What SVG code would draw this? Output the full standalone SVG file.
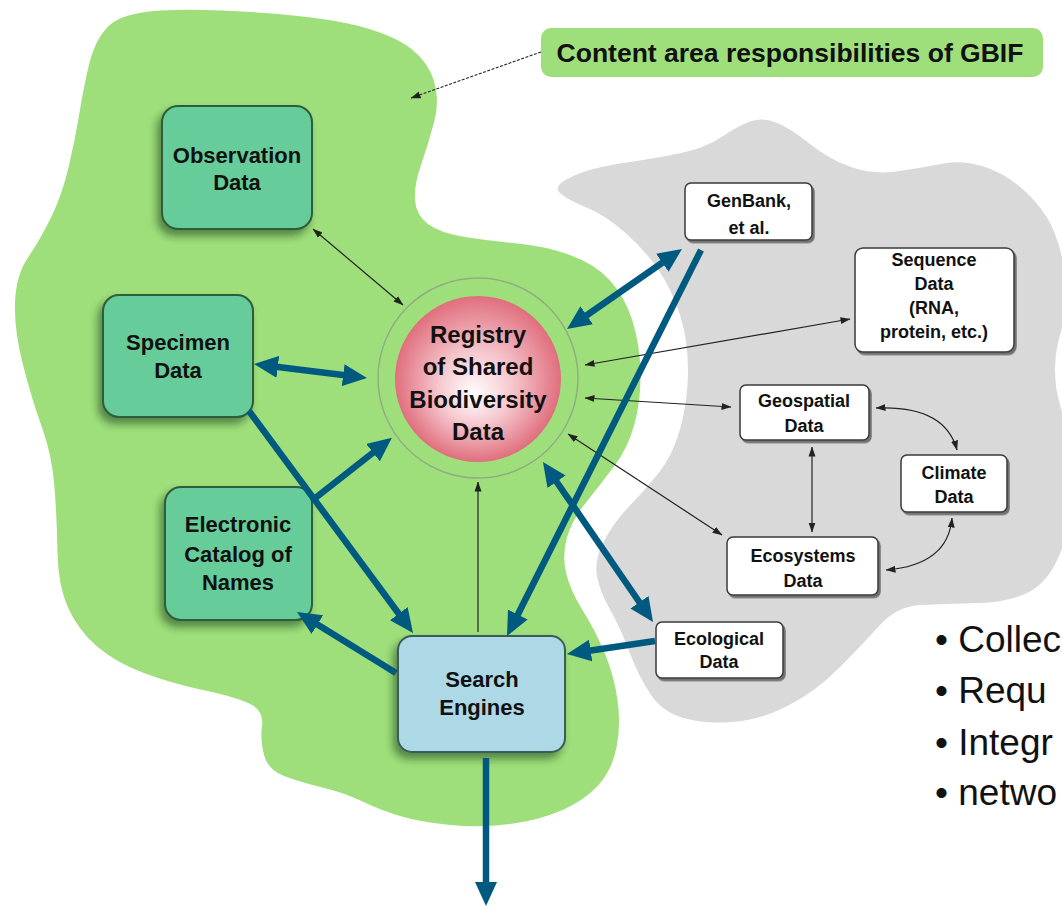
<svg xmlns="http://www.w3.org/2000/svg" width="1062" height="909" viewBox="0 0 1062 909">
<defs>
<style>
text{font-family:"Liberation Sans",Arial,sans-serif;fill:#111;text-anchor:middle}
.n22{font-size:22px;font-weight:bold}
.n24{font-size:24px;font-weight:bold}
.n18{font-size:18px;font-weight:bold}
.bul{font-size:37px;text-anchor:start}
.g{fill:#66cc99;stroke:#2e5c3c;stroke-width:2}
.w{fill:#fff;stroke:#3a3a3a;stroke-width:1.5}
.blue{stroke:#005a80;stroke-width:6.5;fill:none}
.thin{stroke:#222;stroke-width:1.2;fill:none}
</style>
<marker id="bh" viewBox="0 0 24 22" markerWidth="24" markerHeight="22" refX="10" refY="11" orient="auto-start-reverse" markerUnits="userSpaceOnUse"><path d="M0,0 L24,11 L0,22 z" fill="#005a80"/></marker>
<marker id="sa" viewBox="0 0 10 8" markerWidth="10" markerHeight="8" refX="9.5" refY="4" orient="auto-start-reverse" markerUnits="userSpaceOnUse"><path d="M0,0.5 L10,4 L0,7.5 z" fill="#222"/></marker>
<filter id="sh" x="-25%" y="-20%" width="150%" height="150%"><feDropShadow dx="-4" dy="6" stdDeviation="4" flood-color="#1f4a1a" flood-opacity="0.6"/></filter>
<filter id="ws" x="-10%" y="-10%" width="125%" height="135%"><feDropShadow dx="2" dy="2.5" stdDeviation="0.6" flood-color="#666" flood-opacity="0.9"/></filter>
<radialGradient id="pk" cx="0.5" cy="0.5" r="0.5" fx="0.47" fy="0.6"><stop offset="0" stop-color="#ffffff"/><stop offset="0.45" stop-color="#f5c6cd"/><stop offset="1" stop-color="#e06e7d"/></radialGradient>
</defs>

<g id="gray-area">
<path fill="#d9d9d9" d="M571,177 Q590,168 623.5,163 Q657,158 681,153 Q705,148 721.5,137 Q738,126 750,121.5 Q762,117 776,122.5 Q790,128 810,144 Q830,160 852.5,167.5 Q875,175 900,171 Q925,167 943.5,163.5 Q962,160 982,166 Q1002,172 1019,186 Q1036,200 1047,217.5 Q1058,235 1064,267.5 Q1070,300 1060,335 Q1050,370 1060,405 Q1070,440 1070,485 Q1070,530 1059,556 Q1048,582 1029,592 Q1010,602 977.5,603 Q945,604 921,605 Q897,606 879.5,625.5 Q862,645 838.5,668.5 Q815,692 787.5,706 Q760,720 732.5,722 Q705,724 683.5,718 Q662,712 650,693.5 Q638,675 629,651 Q620,627 610,609.5 Q600,592 597,576 Q594,560 604,541 Q614,522 629.5,506 Q645,490 659,472.5 Q673,455 680.5,427.5 Q688,400 688,370 Q688,340 680,315 Q672,290 658.5,270 Q645,250 625,232.5 Q605,215 586.5,207.5 Q568,200 560,193 Q552,186 571,177 Z"/>
</g>
<g id="green-area">
<path fill="#9fdf7b" d="M160.5,10.5 Q200,8 265,13 Q330,18 362.5,27 Q395,36 411.5,49 Q428,62 434,81 Q440,100 434,122.5 Q428,145 421,165 Q414,185 415,200 Q416,215 428,224 Q440,233 465,237 Q490,241 517.5,243.5 Q545,246 570,255 Q595,264 610,280.5 Q625,297 632.5,321 Q640,345 640.5,372.5 Q641,400 634.5,424 Q628,448 614,466.5 Q600,485 586,502.5 Q572,520 567,537.5 Q562,555 566,572.5 Q570,590 582.5,610 Q595,630 604.5,652.5 Q614,675 617.5,700 Q621,725 616.5,747.5 Q612,770 598.5,785 Q585,800 562.5,810 Q540,820 510,824 Q480,828 450,825 Q420,822 400,816 Q380,810 362.5,801.5 Q345,793 322.5,787.5 Q300,782 284,776 Q268,770 264,755 Q260,740 262,726 Q264,712 252,705 Q240,698 205,690.5 Q170,683 142.5,672.5 Q115,662 96.5,646 Q78,630 68,607.5 Q58,585 57.5,552.5 Q57,520 54.5,487.5 Q52,455 42,427.5 Q32,400 23,365 Q14,330 15,302.5 Q16,275 28,257.5 Q40,240 51,217.5 Q62,195 68.5,167.5 Q75,140 79.5,112.5 Q84,85 89.5,62.5 Q95,40 108,26.5 Q121,13 160.5,10.5 Z"/>
</g>

<g id="label">
<rect x="541" y="28" width="502" height="49" rx="10" fill="#9fdf7b"/>
<text x="790" y="62" style="font-size:26.5px;font-weight:bold">Content area responsibilities of GBIF</text>
</g>

<g id="observation">
<rect class="g" x="162" y="106" width="150" height="123" rx="16" filter="url(#sh)"/>
<text class="n22" x="237" y="163">Observation</text>
<text class="n22" x="237" y="190">Data</text>
</g>
<g id="specimen">
<rect class="g" x="103" y="295" width="150" height="122" rx="16" filter="url(#sh)"/>
<text class="n22" x="178" y="350">Specimen</text>
<text class="n22" x="178" y="378">Data</text>
</g>
<g id="catalog">
<rect class="g" x="165" y="487" width="147" height="133" rx="16" filter="url(#sh)"/>
<text class="n22" x="238" y="532">Electronic</text>
<text class="n22" x="238" y="562">Catalog of</text>
<text class="n22" x="238" y="590">Names</text>
</g>
<g id="search">
<rect x="398" y="636" width="167" height="116" rx="14" fill="#add8e6" stroke="#3b5b5b" stroke-width="2" filter="url(#sh)"/>
<text class="n22" x="482" y="687">Search</text>
<text class="n22" x="482" y="715">Engines</text>
</g>
<g id="registry">
<circle cx="478" cy="378" r="100" fill="none" stroke="#8fae80" stroke-width="1.5"/>
<circle cx="478" cy="379" r="83" fill="url(#pk)"/>
<text class="n24" x="478" y="343">Registry</text>
<text class="n24" x="478" y="375">of Shared</text>
<text class="n24" x="478" y="408">Biodiversity</text>
<text class="n24" x="478" y="440">Data</text>
</g>
<g id="genbank">
<rect class="w" x="685" y="183" width="127" height="57" rx="6" filter="url(#ws)"/>
<text class="n18" x="749" y="207">GenBank,</text>
<text class="n18" x="749" y="234">et al.</text>
</g>
<g id="sequence">
<rect class="w" x="855" y="248" width="159" height="104" rx="8" filter="url(#ws)"/>
<text class="n18" x="934" y="266">Sequence</text>
<text class="n18" x="934" y="290">Data</text>
<text class="n18" x="934" y="314">(RNA,</text>
<text class="n18" x="934" y="338">protein, etc.)</text>
</g>
<g id="geospatial">
<rect class="w" x="740" y="385" width="129" height="55" rx="6" filter="url(#ws)"/>
<text class="n18" x="804" y="407">Geospatial</text>
<text class="n18" x="804" y="432">Data</text>
</g>
<g id="climate">
<rect class="w" x="901" y="455" width="106" height="57" rx="6" filter="url(#ws)"/>
<text class="n18" x="954" y="479">Climate</text>
<text class="n18" x="954" y="503">Data</text>
</g>
<g id="ecosystems">
<rect class="w" x="727" y="537" width="151" height="58" rx="6" filter="url(#ws)"/>
<text class="n18" x="803" y="562">Ecosystems</text>
<text class="n18" x="803" y="587">Data</text>
</g>
<g id="ecological">
<rect class="w" x="656" y="622" width="127" height="56" rx="6" filter="url(#ws)"/>
<text class="n18" x="719" y="645">Ecological</text>
<text class="n18" x="719" y="668">Data</text>
</g>

<g id="connectors">
<line class="thin" x1="541" y1="52" x2="411" y2="98" stroke-dasharray="3 1.5" marker-end="url(#sa)"/>
<line class="thin" x1="313" y1="229" x2="403" y2="305" marker-start="url(#sa)" marker-end="url(#sa)"/>
<line class="thin" x1="850" y1="319" x2="585" y2="365" marker-start="url(#sa)" marker-end="url(#sa)"/>
<line class="thin" x1="731" y1="407" x2="585" y2="398" marker-start="url(#sa)" marker-end="url(#sa)"/>
<line class="thin" x1="722" y1="535" x2="568" y2="434" marker-start="url(#sa)" marker-end="url(#sa)"/>
<line class="thin" x1="812" y1="447" x2="812" y2="532" marker-start="url(#sa)" marker-end="url(#sa)"/>
<path class="thin" d="M876,408 Q945,405 957,450" marker-start="url(#sa)" marker-end="url(#sa)"/>
<path class="thin" d="M952,518 Q948,565 886,570" marker-start="url(#sa)" marker-end="url(#sa)"/>
<line class="thin" x1="478" y1="632" x2="478" y2="482" stroke="#3a4a2a" marker-end="url(#sa)"/>
<line class="blue" x1="267.9" y1="365.7" x2="353.1" y2="376.3" marker-start="url(#bh)" marker-end="url(#bh)"/>
<line class="blue" x1="670.5" y1="257" x2="578.5" y2="321" marker-start="url(#bh)" marker-end="url(#bh)"/>
<line class="blue" x1="701" y1="250" x2="513.3" y2="623.5" marker-end="url(#bh)"/>
<line class="blue" x1="249" y1="411" x2="404.7" y2="621.7" marker-end="url(#bh)"/>
<line class="blue" x1="314" y1="499" x2="380.9" y2="446.5" marker-end="url(#bh)"/>
<line class="blue" x1="396" y1="673" x2="308.9" y2="619.3" marker-end="url(#bh)"/>
<line class="blue" x1="645.1" y1="610.5" x2="550.9" y2="473.5" marker-start="url(#bh)" marker-end="url(#bh)"/>
<line class="blue" x1="655" y1="641" x2="580.8" y2="652" marker-end="url(#bh)"/>
<line class="blue" x1="486" y1="758" x2="486" y2="892" marker-end="url(#bh)"/>
</g>

<g id="bullets">
<text class="bul" x="935" y="652">• Collec</text>
<text class="bul" x="935" y="703">• Requ</text>
<text class="bul" x="935" y="755">• Integr</text>
<text class="bul" x="935" y="805">• netwo</text>
</g>
</svg>
